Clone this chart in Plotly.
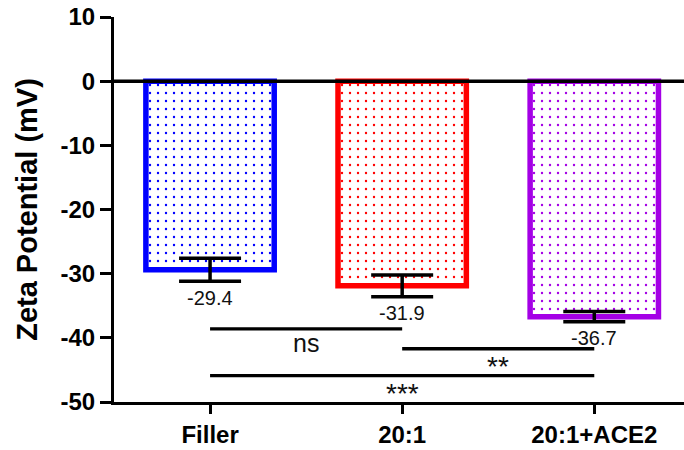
import plotly.graph_objects as go

categories = ["Filler", "20:1", "20:1+ACE2"]
zeta_means = [-29.4, -31.9, -36.7]
zeta_errors = [1.8, 1.7, 0.8]
bar_colors = ["#0000FF", "#FF0000", "#A400E6"]

# significance comparisons: (start category index, end category index, line level, label)
sig_starts = [0, 1, 0]
sig_ends = [1, 2, 2]
sig_levels = [-38.6, -41.7, -45.9]
sig_labels = ["ns", "**", "***"]

y_ticks = [10, 0, -10, -20, -30, -40, -50]

FONT = "Liberation Sans, Arial, sans-serif"

fig = go.Figure()
fig.add_trace(go.Bar(
    x=list(range(len(categories))),
    y=zeta_means,
    width=0.668,
    marker=dict(
        color="white",
        line=dict(color=bar_colors, width=5.5),
        pattern=dict(shape=".", fgcolor=bar_colors, bgcolor="white",
                     size=8, solidity=0.07, fillmode="replace"),
    ),
    error_y=dict(type="data", array=zeta_errors, visible=True,
                 color="black", thickness=3.5, width=31),
    showlegend=False,
    hoverinfo="skip",
))

annotations = []
for i, (m, e) in enumerate(zip(zeta_means, zeta_errors)):
    annotations.append(dict(
        x=i, y=m - e, yshift=-16.5, text=f"{m}", showarrow=False,
        xref="x", yref="y", yanchor="middle",
        font=dict(family=FONT, size=20, color="#111111"),
    ))

shapes = [dict(type="line", xref="paper", yref="y", x0=0, x1=1, y0=0, y1=0,
               line=dict(color="black", width=3.5), layer="above")]
for s, e, lv, lab in zip(sig_starts, sig_ends, sig_levels, sig_labels):
    shapes.append(dict(type="line", xref="x", yref="y", x0=s, x1=e, y0=lv, y1=lv,
                       line=dict(color="black", width=3.3), layer="above"))
    is_star = "*" in lab
    annotations.append(dict(
        x=(s + e) / 2, y=lv, text=lab, showarrow=False, xref="x", yref="y",
        yanchor="top", yshift=(0 if is_star else 2),
        font=dict(family=FONT, size=(28 if is_star else 25), color="#111111"),
    ))

fig.update_layout(
    width=684, height=450,
    margin=dict(l=114, r=0, t=17, b=48, autoexpand=False),
    paper_bgcolor="white", plot_bgcolor="white",
    shapes=shapes, annotations=annotations,
    xaxis=dict(
        range=[-0.5, 2.467], tickmode="array",
        tickvals=list(range(len(categories))), ticktext=categories,
        showline=True, linecolor="black", linewidth=3,
        ticks="outside", ticklen=9, tickwidth=3, tickcolor="black",
        showgrid=False, zeroline=False, automargin=False,
        tickfont=dict(family=FONT, size=24, color="black", weight="bold"),
    ),
    yaxis=dict(
        range=[-50, 10], tickmode="array", tickvals=y_ticks,
        ticktext=[str(t) for t in y_ticks],
        showline=True, linecolor="black", linewidth=3,
        ticks="outside", ticklen=11, tickwidth=3, tickcolor="black",
        showgrid=False, zeroline=False, automargin=False,
        tickfont=dict(family=FONT, size=24, color="black", weight="bold"),
        title=dict(text="Zeta Potential (mV)", standoff=15,
                   font=dict(family=FONT, size=29, color="black", weight="bold")),
    ),
)

fig.write_html("out.html", config={"displayModeBar": False},
               post_script="document.body.style.margin='0';")
